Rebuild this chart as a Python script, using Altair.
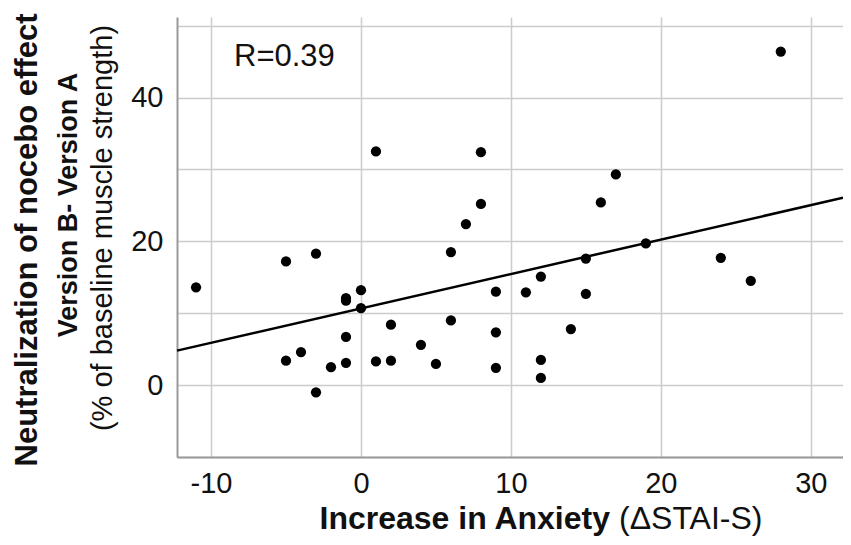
import altair as alt
import pandas as pd

# Scatter data: x = increase in anxiety (ΔSTAI-S),
# y = neutralization of nocebo effect (% of baseline muscle strength)
anxiety = [-11, -5, -3, 6, 0, -1, -1, 0, 9, 2, 6, 9, -1, 4, -4, -5, -2, -1, 1, 2,
           5, 9, -3, 1, 8, 8, 7, 28, 17, 16, 19, 15, 24, 26, 12, 11, 15, 14, 12, 12]
neutralization = [13.6, 17.2, 18.3, 18.5, 13.2, 12.1, 11.75, 10.7, 13.0, 8.4,
                  9.0, 7.35, 6.7, 5.6, 4.6, 3.4, 2.5, 3.1, 3.3, 3.4,
                  2.95, 2.4, -1.0, 32.5, 32.4, 25.2, 22.4, 46.4, 29.3, 25.4,
                  19.7, 17.6, 17.7, 14.5, 15.1, 12.9, 12.7, 7.8, 3.5, 1.0]

# Fitted line end points, read at the plot edges
fit_x = [-12.27, 32.15]
fit_y = [4.8, 26.05]

x_domain = [-12.27, 32.15]
y_domain = [-10, 51.2]
x_ticks = [-10, 0, 10, 20, 30]
y_grid = [-10, 0, 10, 20, 30, 40, 50]

FONT = "Liberation Sans"

pts = pd.DataFrame({"x": anxiety, "y": neutralization})
fit = pd.DataFrame({"x": fit_x, "y": fit_y})

xscale = alt.Scale(domain=x_domain, nice=False, zero=False)
yscale = alt.Scale(domain=y_domain, nice=False, zero=False)

xaxis = alt.Axis(values=x_ticks, title=None, grid=True, gridColor="#cccccc",
                 gridWidth=1.5, ticks=False, domainColor="#999999", domainWidth=2,
                 labelFont=FONT, labelFontSize=29, labelColor="#111111",
                 labelPadding=12, labelExpr="'' + datum.value")
yaxis = alt.Axis(values=y_grid, title=None, grid=True, gridColor="#cccccc",
                 gridWidth=1.5, ticks=False, domainColor="#999999", domainWidth=2,
                 labelFont=FONT, labelFontSize=29, labelColor="#111111",
                 labelPadding=14,
                 labelExpr="(datum.value == 0 || datum.value == 20 || datum.value == 40) ? '' + datum.value : ''")

points = alt.Chart(pts).mark_circle(size=105, color="black", opacity=1).encode(
    x=alt.X("x:Q", scale=xscale, axis=xaxis),
    y=alt.Y("y:Q", scale=yscale, axis=yaxis),
)

line = alt.Chart(fit).mark_line(color="black", strokeWidth=2.5).encode(
    x=alt.X("x:Q", scale=xscale),
    y=alt.Y("y:Q", scale=yscale),
)

def label(text, x, y, size, weight="normal", align="left",
          baseline="alphabetic", angle=0):
    return alt.Chart(pd.DataFrame({"t": [text]})).mark_text(
        font=FONT, fontSize=size, fontWeight=weight, align=align,
        baseline=baseline, angle=angle, color="#111111",
    ).encode(text="t:N", x=alt.value(x), y=alt.value(y))

r_text = label("R=0.39", 57, 49, 31)
xt1 = label("Increase in Anxiety", 433, 512, 32, weight="bold", align="right")
xt2 = label("(ΔSTAI-S)", 442, 512, 32, align="left")
yt1 = label("Neutralization of nocebo effect", -149, 223, 31, weight="bold",
            align="center", baseline="middle", angle=270)
yt2 = label("Version B- Version A", -108, 188, 27, weight="bold",
            align="center", baseline="middle", angle=270)
yt3 = label("(% of baseline muscle strength)", -74, 211, 29,
            align="center", baseline="middle", angle=270)

chart = alt.layer(points, line, r_text, xt1, xt2, yt1, yt2, yt3).properties(
    width=666, height=440,
    autosize=alt.AutoSizeParams(type="none"),
    padding={"left": 169, "top": 9, "right": 0, "bottom": 80},
    background="white",
).configure_view(stroke=None)

chart.save("out.html", embed_options={"renderer": "svg", "actions": False})
